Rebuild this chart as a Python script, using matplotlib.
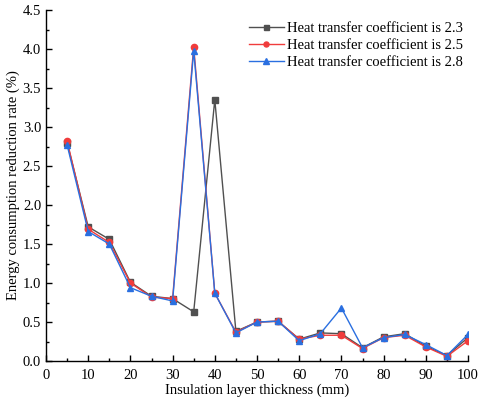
import numpy as np
import matplotlib as mpl
mpl.use('Agg')
import matplotlib.pyplot as plt
from matplotlib.ticker import MultipleLocator

mpl.rcParams['font.family'] = 'serif'
mpl.rcParams['font.serif'] = ['Liberation Serif', 'DejaVu Serif']
mpl.rcParams['font.size'] = 10.5

# insulation thickness (mm)
thick = [5, 10, 15, 20, 25, 30, 35, 40, 45, 50, 55, 60, 65, 70, 75, 80, 85, 90, 95, 100]
# energy consumption reduction rate (%)
rate_23 = [2.80, 1.72, 1.56, 1.01, 0.83, 0.80, 0.63, 3.35, 0.38, 0.50,
           0.51, 0.28, 0.36, 0.35, 0.17, 0.31, 0.35, 0.19, 0.07, 0.30]
rate_25 = [2.82, 1.69, 1.52, 1.00, 0.82, 0.80, 4.03, 0.87, 0.37, 0.50,
           0.51, 0.28, 0.33, 0.33, 0.16, 0.30, 0.33, 0.18, 0.06, 0.26]
rate_28 = [2.77, 1.66, 1.50, 0.94, 0.83, 0.77, 3.98, 0.87, 0.36, 0.50,
           0.51, 0.26, 0.35, 0.68, 0.17, 0.30, 0.34, 0.21, 0.07, 0.34]
labels = ['Heat transfer coefficient is 2.3',
          'Heat transfer coefficient is 2.5',
          'Heat transfer coefficient is 2.8']

fig = plt.figure(figsize=(4.8, 3.99), dpi=100)
sub = fig.add_axes([46/480., 38/399., 422/480., 351/399.])

sub.plot(thick, rate_23, c='#505050', lw=1, marker='s', ms=4.5, label=labels[0])
sub.plot(thick, rate_25, c='#f03c3c', lw=1, marker='o', ms=4.5, label=labels[1])
sub.plot(thick, rate_28, c='#2a6fe0', lw=1, marker='^', ms=5, label=labels[2])

sub.set_xlim([0, 100])
sub.set_ylim([0, 4.5])
sub.xaxis.set_major_locator(MultipleLocator(10))
sub.xaxis.set_minor_locator(MultipleLocator(5))
sub.yaxis.set_major_locator(MultipleLocator(0.5))
sub.yaxis.set_minor_locator(MultipleLocator(0.25))
sub.yaxis.set_major_formatter(mpl.ticker.FormatStrFormatter('%.1f'))
sub.tick_params(which='both', direction='in', width=1)
sub.tick_params(which='major', length=4)
sub.tick_params(which='minor', length=2)
sub.tick_params(axis='x', which='major', pad=6)
for s in ['top', 'right']:
    sub.spines[s].set_visible(False)
for s in ['left', 'bottom']:
    sub.spines[s].set_linewidth(1)
sub.set_xlabel('Insulation layer thickness (mm)', labelpad=1)
sub.set_ylabel('Energy consumption reduction rate (%)', labelpad=2)
sub.legend(loc='upper right', bbox_to_anchor=(1.012, 0.995), frameon=False,
           handlelength=2.4, handletextpad=0.2, labelspacing=0.27,
           borderaxespad=0.3, markerscale=0.8)

fig.savefig('out.png', dpi=100)
plt.close()
